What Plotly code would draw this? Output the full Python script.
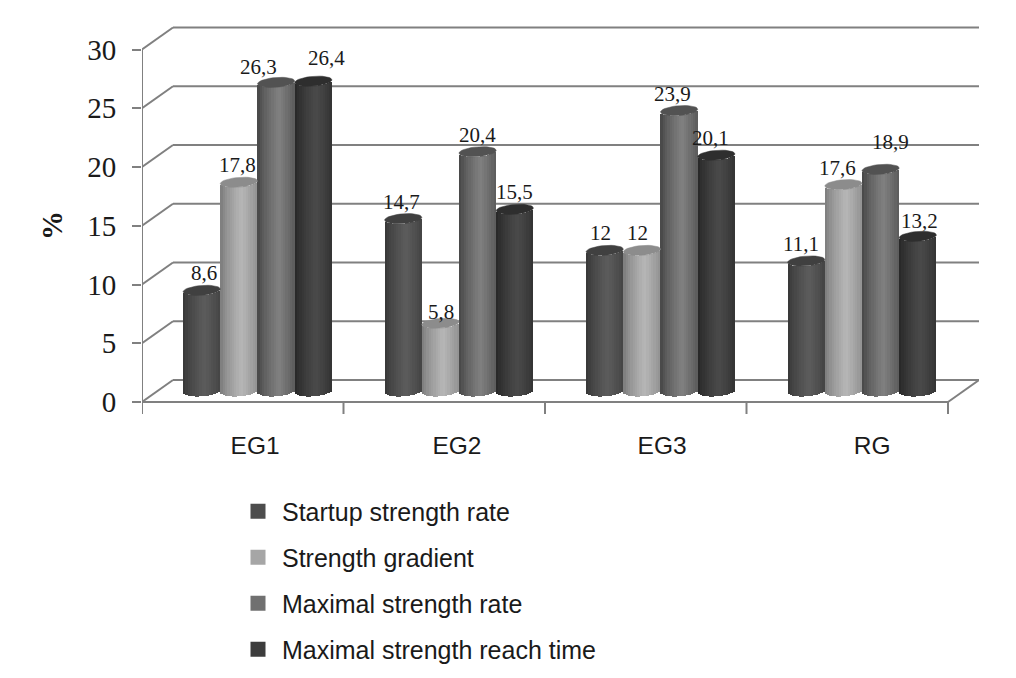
import math
import plotly.graph_objects as go

# --- data ---
groups = ["EG1", "EG2", "EG3", "RG"]
startup_strength_rate = [8.6, 14.7, 12, 11.1]
strength_gradient = [17.8, 5.8, 12, 17.6]
maximal_strength_rate = [26.3, 20.4, 23.9, 18.9]
maximal_strength_reach_time = [26.4, 15.5, 20.1, 13.2]
y_ticks = [0, 5, 10, 15, 20, 25, 30]

series_names = ["Startup strength rate", "Strength gradient",
                "Maximal strength rate", "Maximal strength reach time"]
series_values = [startup_strength_rate, strength_gradient,
                 maximal_strength_rate, maximal_strength_reach_time]

# --- styles: (edge shade, centre shade, cap shade, legend shade) ---
series_styles = [
    (52, 92, 64, "#4d4d4d"),
    (120, 182, 140, "#a6a6a6"),
    (66, 128, 82, "#707070"),
    (36, 74, 46, "#3c3c3c"),
]
GREY = "#808080"
TEXT = "#1a1a1a"

# --- pseudo-3D geometry, in axis units ---
PX_X = 201.5           # px per category
PX_Y = 11.75           # px per value unit
X_MIN = (142 - 257.5) / PX_X
X_MAX = (979 - 257.5) / PX_X
Y_MIN = -12 / PX_Y
Y_MAX = 32.0
DEPTH_X = 31 / PX_X
DEPTH_Y = 22 / PX_Y
BAR_W = 37.2 / PX_X
FLOOR = 0.90           # centre of the cylinder's bottom ellipse
CAP_H = 4.9 / PX_Y
TILT = 1.4 / PX_Y
STRIPS = 16

label_dx = [[2, -2, -4, -5], [-1, 1, -4, -6], [-18, 0, -7, 10], [13, 0, -6, 2]]
label_dy = [[17, 17, 17, 17], [17, 11, 17, 17], [15, 17, 17, 27], [23, 17, 17, 15]]

fig = go.Figure()


def shade(edge, centre, t):
    k = max(0.0, 1 - abs(t - 0.15) / 1.15) ** 0.7
    v = round(edge + (centre - edge) * k)
    return f"rgb({v},{v},{v})"


for s, (name, values, style) in enumerate(zip(series_names, series_values, series_styles)):
    edge, centre, cap, legend_color = style
    xs, ys, bases, widths, colors = [], [], [], [], []
    cap_x, cap_y = [], []
    for g, v in enumerate(values):
        xc = g + (s - 1.5) * BAR_W
        for i in range(STRIPS):
            t = -1 + (2 * i + 1) / STRIPS
            xs.append(xc + t * BAR_W / 2)
            ys.append(v)
            bases.append(FLOOR - CAP_H * math.sqrt(1 - t * t) + TILT * t)
            widths.append(BAR_W / STRIPS * 1.08)
            colors.append(shade(edge, centre, t))
        for a in range(0, 361, 10):
            c, d = math.cos(math.radians(a)), math.sin(math.radians(a))
            cap_x.append(xc + c * BAR_W / 2)
            cap_y.append(FLOOR + v + CAP_H * d + TILT * c)
        cap_x.append(None)
        cap_y.append(None)
    fig.add_trace(go.Bar(x=xs, y=ys, base=bases, width=widths,
                         marker=dict(color=colors, line=dict(width=0)),
                         showlegend=False, hoverinfo="skip"))
    cap_v = f"rgb({cap},{cap},{cap})"
    fig.add_trace(go.Scatter(x=cap_x, y=cap_y, mode="lines", fill="toself",
                             fillcolor=cap_v, line=dict(color=cap_v, width=0.5),
                             showlegend=False, hoverinfo="skip"))

for s, (name, style) in enumerate(zip(series_names, series_styles)):
    fig.add_trace(go.Scatter(x=[None], y=[None], mode="markers", name=name,
                             legendgroup=name,
                             marker=dict(symbol="square", size=15, color=style[3])))

# value labels
annotations = []
for s, values in enumerate(series_values):
    for g, v in enumerate(values):
        annotations.append(dict(
            x=g + (s - 1.5) * BAR_W, y=FLOOR + v, xref="x", yref="y",
            text=f"{v:g}".replace(".", ","), showarrow=False,
            xshift=label_dx[s][g], yshift=label_dy[s][g],
            font=dict(family="Liberation Serif", size=21, color=TEXT)))

# y-axis unit, placed off the axis centre as in the reference
annotations.append(dict(
    xref="paper", yref="paper", x=(52 - 142) / 837, y=(414 - 226) / 388,
    xanchor="center", yanchor="middle",
    text="<b>%</b>", textangle=-90, showarrow=False,
    font=dict(family="Liberation Serif", size=29, color=TEXT)))

# floor, back wall and axis lines, all under the cylinders
shapes = []


def seg(x0, y0, x1, y1):
    shapes.append(dict(type="line", xref="x", yref="y", layer="below",
                       x0=x0, y0=y0, x1=x1, y1=y1, line=dict(color=GREY, width=2)))


X_RIGHT = X_MAX - DEPTH_X
for v in y_ticks:
    seg(X_MIN, v, X_MIN + DEPTH_X, v + DEPTH_Y)
    seg(X_MIN + DEPTH_X, v + DEPTH_Y, X_MAX, v + DEPTH_Y)
seg(X_MIN, 0, X_MIN, y_ticks[-1])
seg(X_MIN, 0, X_RIGHT, 0)
seg(X_RIGHT, 0, X_MAX, DEPTH_Y)
for k in range(len(groups) + 1):
    seg(X_MIN + k, 0, X_MIN + k, Y_MIN)

fig.update_layout(
    width=1016, height=678,
    margin=dict(l=142, r=37, t=26, b=264, autoexpand=False),
    paper_bgcolor="white", plot_bgcolor="white",
    barmode="overlay", bargap=0,
    shapes=shapes, annotations=annotations,
    xaxis=dict(range=[X_MIN, X_MAX], tickmode="array",
               tickvals=[-0.012, 0.99, 2.008, 3.05], ticktext=groups,
               showgrid=False, zeroline=False, showline=False,
               ticks="outside", ticklen=10, tickcolor="rgba(0,0,0,0)",
               tickfont=dict(family="Liberation Sans", size=24.5, color=TEXT)),
    yaxis=dict(range=[Y_MIN, Y_MAX], tickmode="array", tickvals=y_ticks,
               showgrid=False, zeroline=False, showline=False,
               ticks="outside", ticklen=9, tickwidth=2, tickcolor=GREY,
               ticklabelstandoff=10,
               tickfont=dict(family="Liberation Serif", size=29, color=TEXT)),
    legend=dict(x=(234 - 142) / 837, y=(414 - 488.5) / 388, xanchor="left", yanchor="top",
                tracegroupgap=10.5, itemwidth=38, itemclick=False, itemdoubleclick=False,
                font=dict(family="Liberation Sans", size=25, color=TEXT),
                bgcolor="rgba(0,0,0,0)"),
)

fig.write_html("out.html", config={"displayModeBar": False},
               post_script="document.body.style.margin='0';")
